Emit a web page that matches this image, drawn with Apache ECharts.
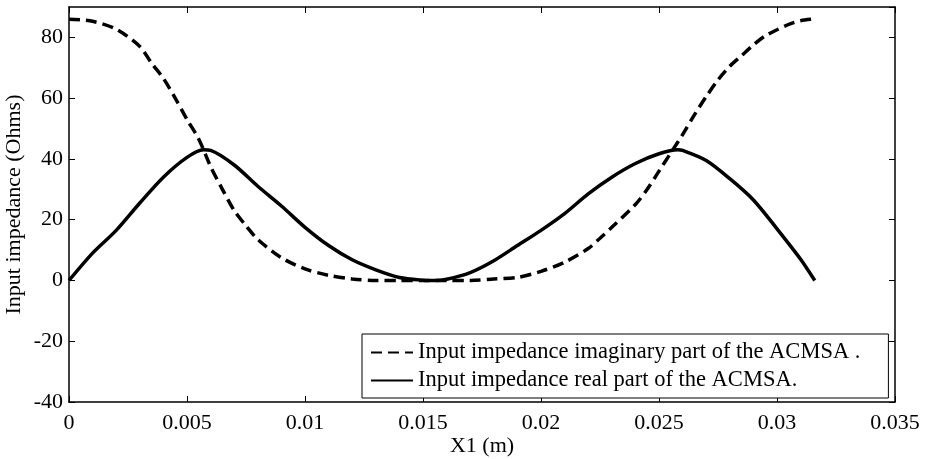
<!DOCTYPE html>
<html>
<head>
<meta charset="utf-8">
<script src="https://cdn.jsdelivr.net/npm/echarts@6/dist/echarts.min.js"></script>
<style>
  html, body { margin: 0; padding: 0; background: #fff; }
  #chart { width: 927px; height: 459px; }
</style>
</head>
<body>
<div id="chart"></div>
<script>
// values
var imagX = [0, 0.001, 0.002, 0.003, 0.0035, 0.004, 0.0045, 0.005, 0.0055, 0.006, 0.0065, 0.007, 0.0075, 0.008, 0.009, 0.010, 0.011, 0.012, 0.013, 0.014, 0.015, 0.016, 0.017, 0.018, 0.019, 0.020, 0.021, 0.022, 0.0225, 0.023, 0.024, 0.0245, 0.025, 0.0255, 0.026, 0.0265, 0.027, 0.0275, 0.028, 0.0285, 0.029, 0.0295, 0.030, 0.0305, 0.031, 0.0315];
var imagY = [86, 85.3, 82.7, 77, 71.5, 66.5, 60, 53, 46.5, 37.5, 30, 23, 18, 13.5, 7.5, 3.8, 1.7, 0.5, 0, 0, 0, 0, 0, 0.5, 1, 3, 6, 10.5, 13.9, 17.5, 25, 30, 36, 42, 48, 54.5, 60.5, 66, 70.5, 74, 77.5, 80.5, 82.5, 84.3, 85.5, 86];

var realX = [0, 0.001, 0.002, 0.003, 0.004, 0.005, 0.0057, 0.006, 0.007, 0.008, 0.009, 0.010, 0.011, 0.012, 0.013, 0.014, 0.015, 0.0155, 0.016, 0.017, 0.018, 0.019, 0.020, 0.021, 0.022, 0.023, 0.024, 0.025, 0.0258, 0.026, 0.027, 0.028, 0.029, 0.030, 0.031, 0.0316];
var realY = [0, 9, 16.5, 25.5, 34, 40.5, 43, 42.8, 38, 31, 24.5, 17.5, 11.5, 6.8, 3.5, 1, 0.1, 0, 0.4, 2.6, 6.5, 11.5, 16.5, 22, 28.5, 34, 38.5, 41.7, 43, 42.8, 39.5, 33.5, 26.5, 17, 7, 0];

var imagName = "Input impedance imaginary part of the ACMSA .";
var realName = "Input impedance real part of the ACMSA.";

function pairs(xs, ys) {
  return xs.map(function (x, i) { return [x, ys[i]]; });
}

var font = "Liberation Serif";
var chart = echarts.init(document.getElementById("chart"), null, { renderer: "canvas" });

var option = {
  animation: false,
  backgroundColor: "#fff",
  textStyle: { fontFamily: font, color: "#000" },
  grid: { left: 69, top: 7, right: 32, bottom: 57, show: false, outerBoundsMode: "none", containLabel: false },
  legend: {
    orient: "vertical",
    left: 362,
    top: 334,
    data: [imagName, realName],
    itemWidth: 42,
    itemHeight: 12,
    itemGap: 5,
    padding: [7, 28, 6, 8],
    borderColor: "#000",
    borderWidth: 1,
    backgroundColor: "#fff",
    itemStyle: { opacity: 0 },
    textStyle: { fontFamily: font, fontSize: 22.5, color: "#000" },
    selectedMode: false
  },
  xAxis: [
    {
      type: "value",
      min: 0,
      max: 0.035,
      interval: 0.005,
      name: "X1 (m)",
      nameLocation: "middle",
      nameGap: 33,
      nameMoveOverlap: false,
      nameTextStyle: { fontFamily: font, fontSize: 22, color: "#000" },
      axisLine: { onZero: false, lineStyle: { color: "#000", width: 1.5 } },
      axisTick: { inside: true, length: 6, lineStyle: { color: "#000" } },
      axisLabel: {
        fontFamily: font, fontSize: 22, color: "#000", margin: 10,
        formatter: function (v) { return String(+v.toFixed(3)); }
      },
      splitLine: { show: false }
    },
    {
      type: "value",
      position: "top",
      min: 0,
      max: 0.035,
      interval: 0.005,
      axisLine: { onZero: false, lineStyle: { color: "#000", width: 1.5 } },
      axisTick: { inside: true, length: 6, lineStyle: { color: "#000" } },
      axisLabel: { show: false },
      splitLine: { show: false }
    }
  ],
  yAxis: [
    {
      type: "value",
      min: -40,
      max: 90,
      interval: 20,
      name: "Input impedance (Ohms)",
      nameLocation: "middle",
      nameGap: 44,
      nameMoveOverlap: false,
      nameTextStyle: { fontFamily: font, fontSize: 22, color: "#000" },
      axisLine: { show: true, onZero: false, lineStyle: { color: "#000", width: 1.5 } },
      axisTick: { show: true, inside: true, length: 6, lineStyle: { color: "#000" } },
      axisLabel: { fontFamily: font, fontSize: 22, color: "#000", margin: 6, showMaxLabel: false },
      splitLine: { show: false }
    },
    {
      type: "value",
      position: "right",
      min: -40,
      max: 90,
      interval: 20,
      axisLine: { show: true, onZero: false, lineStyle: { color: "#000", width: 1.5 } },
      axisTick: { show: true, inside: true, length: 6, lineStyle: { color: "#000" } },
      axisLabel: { show: false },
      splitLine: { show: false }
    }
  ],
  series: [
    {
      name: imagName,
      type: "line",
      data: pairs(imagX, imagY),
      smooth: 0.3,
      symbol: "none",
      lineStyle: { color: "#000", width: 3.5, type: [11, 6] },
      itemStyle: { color: "#000" }
    },
    {
      name: realName,
      type: "line",
      data: pairs(realX, realY),
      smooth: 0.3,
      symbol: "none",
      lineStyle: { color: "#000", width: 3.5, type: "solid" },
      itemStyle: { color: "#000" }
    }
  ]
};

chart.setOption(option);
</script>
</body>
</html>
